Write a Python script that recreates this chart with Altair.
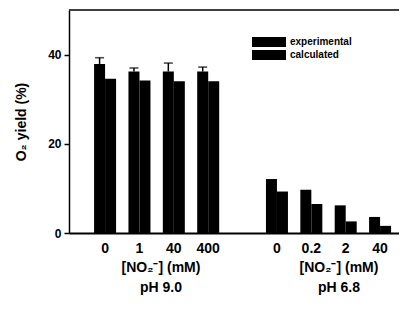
import altair as alt
import pandas as pd

slots = ["9|0", "9|1", "9|40", "9|400", "gap|", "6.8|0", "6.8|0.2", "6.8|2", "6.8|40"]
group_slots = ["9|0", "9|1", "9|40", "9|400", "6.8|0", "6.8|0.2", "6.8|2", "6.8|40"]
series = ["experimental", "calculated"]
experimental = [37.9, 36.2, 36.2, 36.2, 12.1, 9.7, 6.2, 3.6]
calculated = [34.6, 34.2, 34.0, 34.0, 9.3, 6.5, 2.6, 1.6]
exp_error = [1.4, 0.8, 1.9, 1.0, 0.0, 0.0, 0.0, 0.0]
y_ticks = [0, 20, 40]
group_titles = ["[NO\u2082\u207b] (mM)", "[NO\u2082\u207b] (mM)"]
group_ph = ["pH 9.0", "pH 6.8"]

FONT = "Liberation Sans"
W, H = 330, 223

rows = []
for s, e, c in zip(group_slots, experimental, calculated):
    rows.append({"slot": s, "series": "experimental", "value": e})
    rows.append({"slot": s, "series": "calculated", "value": c})
bars_df = pd.DataFrame(rows)

err_df = pd.DataFrame({
    "slot": group_slots,
    "series": ["experimental"] * len(group_slots),
    "value": experimental,
    "upper": [v + e for v, e in zip(experimental, exp_error)],
    "err": exp_error,
})
err_df = err_df[err_df["err"] > 0]

x_scale = alt.Scale(domain=slots, paddingInner=0.36, paddingOuter=0.48, align=0.76)
y_scale = alt.Scale(domain=[0, 50], nice=False)

x_enc = alt.X(
    "slot:N", scale=x_scale, sort=slots,
    axis=alt.Axis(
        title=None, labelAngle=0, ticks=False, domain=True, domainColor="black",
        domainWidth=1.8, labelExpr="split(datum.label, '|')[1]",
        labelFont=FONT, labelFontWeight="bold", labelFontSize=14, labelColor="black",
        labelPadding=8,
    ),
)
xo_enc = alt.XOffset("series:N", scale=alt.Scale(domain=series, paddingInner=0, paddingOuter=0))

bars = alt.Chart(bars_df).mark_bar(color="black").encode(
    x=x_enc,
    xOffset=xo_enc,
    y=alt.Y(
        "value:Q", scale=y_scale,
        axis=alt.Axis(
            values=y_ticks, title="O\u2082 yield (%)", grid=False,
            domainColor="black", domainWidth=1.5, tickColor="black", tickSize=5,
            tickWidth=1.5, labelFont=FONT, labelFontWeight="bold", labelFontSize=12,
            labelColor="black", labelPadding=3, titleFont=FONT, titleFontWeight="bold",
            titleFontSize=14, titleColor="black", titlePadding=19,
        ),
    ),
)

stems = alt.Chart(err_df).mark_rule(color="black", strokeWidth=1.5).encode(
    x=alt.X("slot:N", scale=x_scale, sort=slots),
    xOffset=xo_enc,
    y=alt.Y("value:Q", scale=y_scale),
    y2="upper:Q",
)
caps = alt.Chart(err_df).mark_tick(color="black", thickness=1.6, size=9, orient="horizontal").encode(
    x=alt.X("slot:N", scale=x_scale, sort=slots),
    xOffset=xo_enc,
    y=alt.Y("upper:Q", scale=y_scale),
)

# top frame line
top_line = alt.Chart(pd.DataFrame({"k": [0]})).mark_rule(color="black", strokeWidth=1.5).encode(
    x=alt.value(0), x2=alt.value(W), y=alt.value(0)
)

# legend (manual)
leg_layers = []
for i, name in enumerate(series):
    yc = 32 + 13 * i
    leg_layers.append(
        alt.Chart(pd.DataFrame({"name": [name]})).mark_rect(color="black").encode(
            x=alt.value(183), x2=alt.value(217), y=alt.value(yc - 5), y2=alt.value(yc + 5)
        )
    )
    leg_layers.append(
        alt.Chart(pd.DataFrame({"name": [name]})).mark_text(
            align="left", baseline="middle", font=FONT, fontWeight="bold", fontSize=10, color="black"
        ).encode(x=alt.value(221), y=alt.value(yc), text="name:N")
    )

# group titles below the axis
title_layers = []
for cx, t, ph in zip([92, 270], group_titles, group_ph):
    title_layers.append(
        alt.Chart(pd.DataFrame({"t": [t]})).mark_text(
            font=FONT, fontWeight="bold", fontSize=14, color="black", baseline="middle"
        ).encode(x=alt.value(cx), y=alt.value(258), text="t:N")
    )
    title_layers.append(
        alt.Chart(pd.DataFrame({"t": [ph]})).mark_text(
            font=FONT, fontWeight="bold", fontSize=14, color="black", baseline="middle"
        ).encode(x=alt.value(cx), y=alt.value(278), text="t:N")
    )

chart = alt.layer(bars, stems, caps, top_line, *leg_layers, *title_layers).properties(
    width=W, height=H,
    autosize=alt.AutoSizeParams(type="none"),
    padding={"left": 61, "top": 2, "right": 0, "bottom": 72},
    background="white",
).configure_view(stroke=None)

chart.save("out.html", embed_options={"renderer": "svg", "actions": False})
